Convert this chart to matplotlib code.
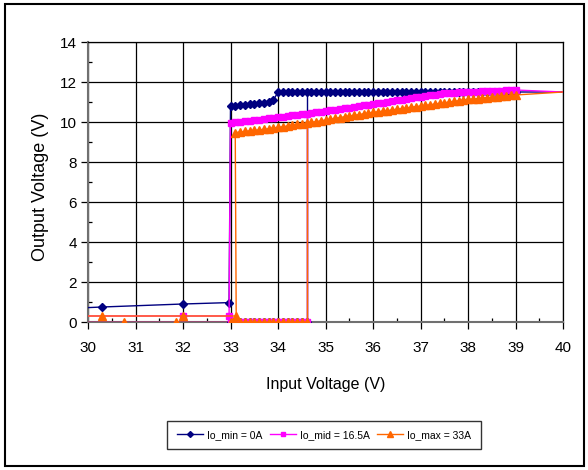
import numpy as np
import matplotlib
matplotlib.use('Agg')
import matplotlib.pyplot as plt
from matplotlib.patches import Rectangle
from matplotlib.ticker import MultipleLocator

plt.rcParams['font.family'] = ['Liberation Sans', 'DejaVu Sans']

# ---- data ----
# on branch, input swept in 0.1 V steps, last point at 40 V
x_on = np.round(np.arange(33.0, 39.05, 0.1), 2)
x_end = 40.0

vmin_on = [10.78, 10.82, 10.84, 10.86, 10.88, 10.9, 10.93, 10.96, 11.0, 11.08] + [11.5] * 51
vmin_end = 11.5
vmid_on = [9.93, 9.98, 10.0, 10.03, 10.06, 10.1, 10.12, 10.15, 10.18, 10.22,
           10.25, 10.27, 10.3, 10.33, 10.36, 10.4, 10.42, 10.45, 10.48, 10.52,
           10.55, 10.58, 10.62, 10.65, 10.68, 10.72, 10.75, 10.79, 10.83, 10.86,
           10.9, 10.93, 10.97, 11.0, 11.04, 11.08, 11.12, 11.16, 11.2, 11.23,
           11.27, 11.3, 11.33, 11.37, 11.4, 11.43, 11.45, 11.47, 11.48, 11.49,
           11.5, 11.51, 11.52, 11.53, 11.54, 11.55, 11.56, 11.57, 11.58, 11.59, 11.6]
vmid_end = 11.5
vmax_on = [9.47, 9.5, 9.53, 9.55, 9.58, 9.6, 9.63, 9.66, 9.7,
           9.73, 9.76, 9.8, 9.84, 9.88, 9.92, 9.95, 9.98, 10.02, 10.06,
           10.1, 10.14, 10.18, 10.22, 10.26, 10.3, 10.33, 10.37, 10.41, 10.44,
           10.48, 10.51, 10.54, 10.57, 10.6, 10.64, 10.67, 10.7, 10.74, 10.77,
           10.8, 10.83, 10.86, 10.9, 10.93, 10.96, 11.0, 11.03, 11.06, 11.1,
           11.13, 11.15, 11.17, 11.2, 11.22, 11.24, 11.27, 11.29, 11.31, 11.33, 11.35]
vmax_end = 11.5

# after turn-off (falling input)
xmin_off = [32.97, 32.0, 30.3, 30.0]
vmin_off = [0.97, 0.9, 0.75, 0.72]
xmid_off = [32.97, 32.0, 30.0]
vmid_off = [0.3, 0.3, 0.3]
xmax_off = [33.12, 32.0, 30.3, 30.0]
vmax_off = [0.3, 0.3, 0.3, 0.3]

# rising input, output still off until 34.6 V
x_zero = np.round(np.arange(33.0, 34.65, 0.1), 2)
xmax_zero_low = [30.0, 30.75, 31.85]
x_turn_on = 34.6

labels = ['Io_min = 0A', 'Io_mid = 16.5A', 'Io_max = 33A']
colors = ['#000080', '#FF00FF', '#FF6600']
markers = ['D', 's', '^']
msizes = [4, 4.5, 5.5]


def one_series(ax, x_start, v_on, v_end, x_off, v_off, x_low, c, m, ms, lab):
    xo = list(x_on[x_on >= x_start - 1e-9])
    # falling sweep: 40 -> turn off -> low
    xs = [x_end] + xo[::-1] + list(x_off)
    ys = [v_end] + list(v_on)[::-1] + list(v_off)
    mk = list(range(1, len(xo) + 1)) + list(range(len(xo) + 1, len(xs) - 1))
    ax.plot(xs, ys, color=c, lw=1.0, marker=m, ms=ms, markevery=mk, zorder=3)
    # rising sweep: zero until turn on, then jump
    v_jump = v_on[xo.index(x_turn_on)]
    xr = list(x_low) + list(x_zero) + [x_turn_on]
    yr = [0.0] * (len(x_low) + len(x_zero)) + [v_jump]
    mk2 = list(range(1 if len(x_low) else 0, len(xr) - 1))
    ax.plot(xr, yr, color=c, lw=1.0, marker=m, ms=ms, markevery=mk2, zorder=3)
    return ax.plot([], [], color=c, lw=1.0, marker=m, ms=ms - 1, label=lab)[0]


fig = plt.figure(figsize=(5.88, 4.70), dpi=100)
fig.patches.append(Rectangle((5 / 588, 4 / 470), 579 / 588, 462 / 470,
                             transform=fig.transFigure, fill=False,
                             edgecolor='black', lw=1.5))

ax = fig.add_axes([88 / 588, 148 / 470, 475 / 588, 280 / 470])

h = []
h.append(one_series(ax, 33.0, vmin_on, vmin_end, xmin_off, vmin_off, [30.0],
                    colors[0], markers[0], msizes[0], labels[0]))
h.append(one_series(ax, 33.0, vmid_on, vmid_end, xmid_off, vmid_off, [30.0],
                    colors[1], markers[1], msizes[1], labels[1]))
h.append(one_series(ax, 33.1, vmax_on, vmax_end, xmax_off, vmax_off, xmax_zero_low,
                    colors[2], markers[2], msizes[2], labels[2]))

ax.set_xlim(30, 40)
ax.set_ylim(0, 14)
ax.xaxis.set_major_locator(MultipleLocator(1))
ax.xaxis.set_minor_locator(MultipleLocator(0.5))
ax.yaxis.set_major_locator(MultipleLocator(2))
ax.yaxis.set_minor_locator(MultipleLocator(1))
ax.grid(True, which='major', color='black', lw=0.9)
ax.set_axisbelow(True)
ax.tick_params(which='major', direction='out', length=5, width=0.9, labelsize=11)
ax.tick_params(axis='x', which='major', pad=9)
ax.tick_params(axis='y', which='major', pad=3)
ax.tick_params(which='minor', direction='in', length=3, width=0.9)
for s in ax.spines.values():
    s.set_color('black')
    s.set_linewidth(0.9)
ax.spines['left'].set_color('#707070')
ax.spines['left'].set_linewidth(1.5)
ax.spines['bottom'].set_color('#707070')
ax.spines['bottom'].set_linewidth(1.5)

fig.text(326 / 588, 1 - 384 / 470, 'Input Voltage (V)', fontsize=11.5,
         ha='center', va='center')
fig.text(41 / 588, 1 - 187 / 470, 'Output Voltage (V)', fontsize=13,
         rotation=90, ha='center', va='center')

leg = fig.legend(handles=h, loc='center', bbox_to_anchor=(324 / 588, 1 - 435 / 470),
                 ncol=3, frameon=True, fancybox=False, edgecolor='black',
                 prop={'size': 7.5},
                 handlelength=2.5, handletextpad=0.4, columnspacing=0.7,
                 borderpad=0.9, borderaxespad=0)
leg.get_frame().set_linewidth(1.0)

fig.savefig('out.png', dpi=100)
